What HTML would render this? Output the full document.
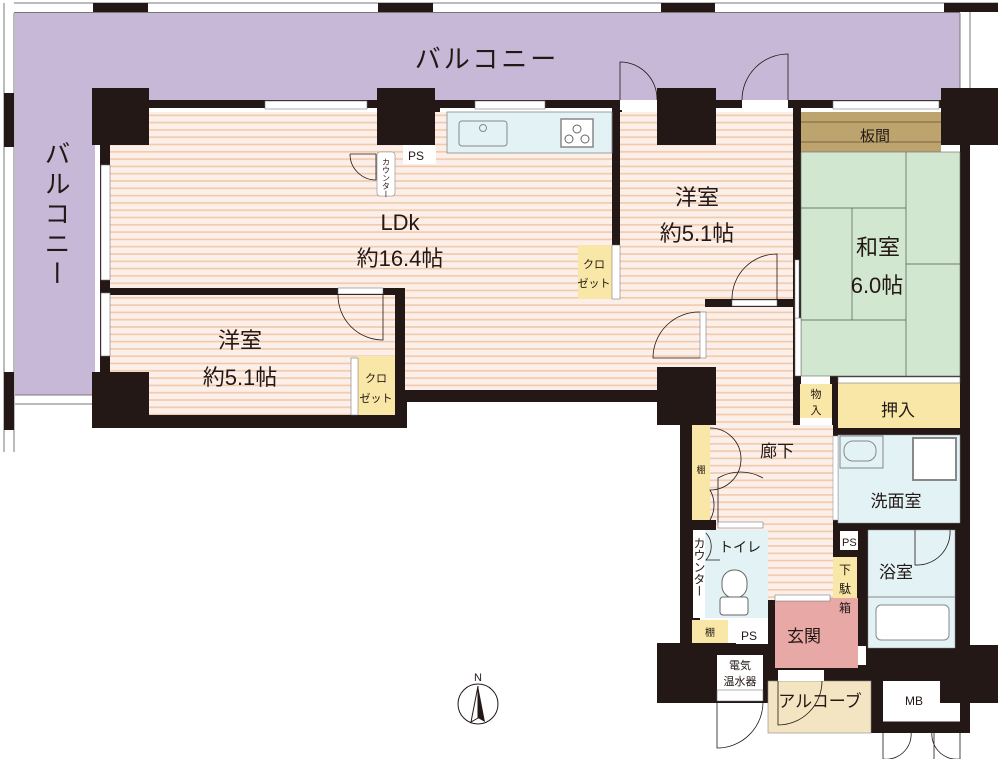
<!DOCTYPE html>
<html><head><meta charset="utf-8"><style>
html,body{margin:0;padding:0;background:#fff;width:1000px;height:759px;overflow:hidden}
svg text{font-family:"Liberation Sans","Noto Sans CJK JP",sans-serif;fill:#231815}
</style></head><body>
<svg width="1000" height="759" viewBox="0 0 1000 759" xmlns="http://www.w3.org/2000/svg">
<defs>
<pattern id="st" width="10" height="7.3" patternUnits="userSpaceOnUse">
<rect width="10" height="7.3" fill="#fcefea"/>
<rect y="5" width="10" height="1.6" fill="#f0c9aa"/>
</pattern>
</defs>
<rect x="15" y="13" width="945" height="88" fill="#c8b8d8"/>
<rect x="15" y="13" width="80" height="382" fill="#c8b8d8"/>
<line x1="14" y1="3" x2="998" y2="3" stroke="#777" stroke-width="1"/>
<line x1="14" y1="12.5" x2="960" y2="12.5" stroke="#777" stroke-width="1"/>
<line x1="4" y1="3" x2="4" y2="452" stroke="#777"/>
<line x1="14" y1="13" x2="14" y2="452" stroke="#777"/>
<line x1="15" y1="395" x2="92" y2="395" stroke="#777"/>
<line x1="15" y1="404" x2="92" y2="404" stroke="#777"/>
<line x1="960" y1="13" x2="960" y2="88" stroke="#777"/>
<line x1="970" y1="3" x2="970" y2="88" stroke="#777"/>
<rect x="93" y="3" width="55" height="9" fill="#231815"/>
<rect x="378" y="3" width="55" height="9" fill="#231815"/>
<rect x="661" y="3" width="54" height="9" fill="#231815"/>
<rect x="944" y="3" width="54" height="9" fill="#231815"/>
<rect x="4" y="93" width="10" height="54" fill="#231815"/>
<rect x="4" y="372" width="10" height="58" fill="#231815"/>

<rect x="100" y="100" width="870" height="8" fill="#231815"/>
<rect x="100" y="100" width="10" height="328" fill="#231815"/>
<rect x="92" y="415" width="313" height="13" fill="#231815"/>
<rect x="395" y="288" width="12" height="140" fill="#231815"/>
<rect x="405" y="390" width="260" height="12" fill="#231815"/>
<rect x="960" y="100" width="10" height="550" fill="#231815"/>
<rect x="680" y="400" width="20" height="300" fill="#231815"/>
<rect x="657" y="643" width="118" height="60" fill="#231815"/>
<rect x="866" y="645" width="132" height="58" fill="#231815"/>
<rect x="775" y="665" width="95" height="16" fill="#231815"/>
<rect x="866" y="680" width="104" height="53" fill="#231815"/>
<rect x="830" y="376" width="140" height="270" fill="#231815"/>
<rect x="612" y="100" width="10" height="207" fill="#231815"/>
<rect x="570" y="237" width="60" height="70" fill="#231815"/>
<rect x="570" y="299" width="228" height="8" fill="#231815"/>
<rect x="793" y="100" width="8" height="330" fill="#231815"/>
<rect x="430" y="100" width="10" height="70" fill="#231815"/>
<rect x="400" y="140" width="40" height="30" fill="#231815"/>
<rect x="376" y="140" width="27" height="57" fill="#231815"/>
<rect x="349" y="348" width="56" height="80" fill="#231815"/>
<rect x="768" y="520" width="12" height="130" fill="#231815"/>
<rect x="690" y="520" width="90" height="10" fill="#231815"/>

<rect x="110" y="112" width="502" height="176" fill="url(#st)"/>
<rect x="405" y="288" width="300" height="102" fill="url(#st)"/>
<rect x="110" y="295" width="285" height="120" fill="url(#st)"/>
<rect x="110" y="288" width="293" height="7" fill="#231815"/>
<rect x="447" y="112" width="165" height="41" fill="#e2f2f5" stroke="#888" stroke-width="0.8"/>
<rect x="459" y="121" width="48" height="25" rx="3" fill="none" stroke="#888"/>
<circle cx="483" cy="128" r="3.5" fill="none" stroke="#888"/>
<rect x="561" y="119" width="32" height="28" fill="#fff" stroke="#888" stroke-width="1.5"/>
<circle cx="577" cy="129" r="4" fill="none" stroke="#666"/><circle cx="569" cy="139" r="4" fill="none" stroke="#666"/><circle cx="585" cy="139" r="4" fill="none" stroke="#666"/>
<rect x="403" y="145" width="33" height="19" fill="#fff"/>
<text x="408" y="160" font-size="12">PS</text>
<rect x="377" y="152" width="18" height="44" rx="3" fill="#fff" stroke="#888" stroke-width="0.6"/>
<text x="386" y="158" font-size="8" writing-mode="tb">カウンター</text>
<path d="M350 154 H376 V180 A26 26 0 0 1 350 154" fill="none" stroke="#231815" stroke-width="0.8"/>

<rect x="620" y="112" width="173" height="187" fill="url(#st)"/>
<rect x="657" y="88" width="59" height="57" fill="#231815"/>
<rect x="578" y="245" width="34" height="54" fill="#f8e7a6"/>
<rect x="612" y="245" width="8" height="54" fill="#fff" stroke="#666" stroke-width="0.5"/>
<text x="594" y="268" font-size="11" text-anchor="middle">クロ</text>
<text x="594" y="287" font-size="11" text-anchor="middle">ゼット</text>
<rect x="357" y="356" width="38" height="59" fill="#f8e7a6"/>
<rect x="351" y="358" width="7" height="57" fill="#fff" stroke="#666" stroke-width="0.5"/>
<text x="376" y="382" font-size="11" text-anchor="middle">クロ</text>
<text x="376" y="402" font-size="11" text-anchor="middle">ゼット</text>

<rect x="705" y="307" width="88" height="213" fill="url(#st)"/>
<rect x="716" y="425" width="117" height="175" fill="url(#st)"/>
<rect x="780" y="530" width="53" height="70" fill="url(#st)"/>

<rect x="801" y="112" width="140" height="40" fill="#bda46f"/>
<line x1="801" y1="122" x2="941" y2="122" stroke="#7a6540"/><line x1="801" y1="142" x2="941" y2="142" stroke="#7a6540"/>
<rect x="801" y="152" width="159" height="224" fill="#d2e7cf" stroke="#666" stroke-width="0.6"/>
<path d="M906 152 V376 M801 208 H906 M852 208 V320 M801 320 H906 M906 264 H960" stroke="#555" stroke-width="0.7" fill="none"/>
<rect x="838" y="383" width="122" height="45" fill="#f8e7a6"/>
<rect x="838" y="377" width="122" height="6" fill="#fff" stroke="#666" stroke-width="0.5"/>
<rect x="800" y="384" width="32" height="34" fill="#f8e7a6"/>
<rect x="800" y="418" width="32" height="7" fill="#fff"/>

<rect x="838" y="435" width="122" height="88" fill="#e2f2f5" stroke="#888" stroke-width="0.5"/>
<rect x="840" y="436" width="43" height="32" fill="none" stroke="#888"/>
<rect x="844" y="441" width="32" height="20" rx="9" fill="none" stroke="#888"/>
<rect x="913" y="438" width="43" height="42" fill="#fff" stroke="#888" stroke-width="2"/>
<rect x="868" y="530" width="87" height="118" fill="#e2f2f5" stroke="#888" stroke-width="0.5"/>
<line x1="868" y1="597" x2="955" y2="597" stroke="#888"/>
<rect x="876" y="605" width="73" height="35" rx="5" fill="#fff" stroke="#888"/>
<path d="M915 530 V565 A33 33 0 0 0 950 530" fill="none" stroke="#231815" stroke-width="0.8"/>
<rect x="840" y="531" width="18" height="19" fill="#fff"/>
<text x="842" y="546" font-size="11">PS</text>
<rect x="833" y="557" width="24" height="71" fill="#f8e7a6"/>

<rect x="692" y="425" width="18" height="95" fill="#f8e7a6"/>
<rect x="705" y="530" width="63" height="88" fill="#e2f2f5"/>
<rect x="693" y="530" width="12" height="88" fill="#fff"/>
<rect x="722" y="570" width="25" height="28" rx="12" fill="#fff" stroke="#666"/>
<rect x="720" y="597" width="28" height="18" rx="3" fill="#fff" stroke="#666"/>
<rect x="692" y="620" width="36" height="23" fill="#f8e7a6"/>
<rect x="736" y="627" width="32" height="17" fill="#fff"/>
<text x="741" y="640" font-size="12">PS</text>

<rect x="775" y="598" width="83" height="70" fill="#e8a8a6"/>
<rect x="775" y="595" width="55" height="6" fill="#fff" stroke="#666" stroke-width="0.5"/>
<rect x="768" y="681" width="103" height="52" fill="#f3e5c2" stroke="#888" stroke-width="0.6"/>
<rect x="778" y="670" width="46" height="11" fill="#fff"/>
<path d="M778 681 V725 A44 44 0 0 0 822 681" fill="none" stroke="#231815" stroke-width="0.8"/>
<rect x="717" y="655" width="46" height="35" fill="#fff"/>
<rect x="717" y="690" width="46" height="11" fill="#fff" stroke="#666" stroke-width="0.5"/>
<path d="M717 701 V748 A46 46 0 0 0 763 701" fill="none" stroke="#231815" stroke-width="0.8"/>
<path d="M883 681 H940 V703 H960 V722 H883 Z" fill="#fff"/>
<line x1="883" y1="722" x2="960" y2="722" stroke="#231815"/>
<path d="M883 722 V759 A25 25 0 0 0 908 722 M960 722 V759 A25 25 0 0 1 935 722 M934 722 V759" fill="none" stroke="#231815" stroke-width="0.8"/>

<rect x="92" y="88" width="57" height="57" fill="#231815"/>
<rect x="377" y="88" width="58" height="57" fill="#231815"/>
<rect x="941" y="88" width="57" height="57" fill="#231815"/>
<rect x="92" y="372" width="57" height="56" fill="#231815"/>
<rect x="657" y="367" width="59" height="58" fill="#231815"/>

<rect x="265" y="101" width="102" height="8" fill="#fff" stroke="#777" stroke-width="0.6"/>
<rect x="475" y="101" width="70" height="8" fill="#fff" stroke="#777" stroke-width="0.6"/>
<rect x="833" y="101" width="106" height="8" fill="#fff" stroke="#777" stroke-width="0.6"/>
<rect x="620" y="100" width="37" height="10" fill="#fff"/>
<rect x="742" y="100" width="46" height="10" fill="#fff"/>
<path d="M620 100 V62 A37 37 0 0 1 657 100 M788 100 V54 A46 46 0 0 0 742 100" fill="none" stroke="#231815" stroke-width="0.8"/>
<rect x="101" y="165" width="9" height="115" fill="#fff" stroke="#777" stroke-width="0.6"/>
<rect x="101" y="293" width="9" height="63" fill="#fff" stroke="#777" stroke-width="0.6"/>
<rect x="338" y="288" width="45" height="6" fill="#fff" stroke="#666" stroke-width="0.5"/>
<path d="M383 294 V340 A45 45 0 0 1 338 294" fill="none" stroke="#231815" stroke-width="0.8"/>
<rect x="732" y="300" width="45" height="6" fill="#fff" stroke="#666" stroke-width="0.5"/>
<path d="M777 300 V254 A45 45 0 0 0 732 300" fill="none" stroke="#231815" stroke-width="0.8"/>
<rect x="700" y="312" width="6" height="46" fill="#fff" stroke="#666" stroke-width="0.5"/>
<path d="M700 312 A46 46 0 0 0 653 358 H700" fill="none" stroke="#231815" stroke-width="0.8"/>
<rect x="795" y="318" width="6" height="58" fill="#fff" stroke="#666" stroke-width="0.5"/>
<rect x="795" y="260" width="4" height="58" fill="#fff" stroke="#888" stroke-width="0.5"/>
<rect x="833" y="436" width="5" height="84" fill="#fff" stroke="#888" stroke-width="0.5"/>
<path d="M710 428 A30 30 0 0 1 710 490 A30 30 0 0 1 710 520 M718 523 V478 A45 45 0 0 1 763 478" fill="none" stroke="#231815" stroke-width="0.8"/>
<rect x="718" y="522" width="45" height="6" fill="#fff" stroke="#666" stroke-width="0.5"/>
<path d="M706 533 A20 20 0 0 1 706 560 H720" fill="none" stroke="#231815" stroke-width="0.8"/>

<circle cx="478" cy="704" r="20" fill="#fff" stroke="#231815"/>
<path d="M478 686 L471 722 L478 718 Z" fill="#fff" stroke="#231815"/>
<path d="M478 686 L485 722 L478 718 Z" fill="#231815"/>
<text x="474" y="681" font-size="11">N</text>

<text x="487" y="68" font-size="26" text-anchor="middle" letter-spacing="3">バルコニー</text>
<text x="56" y="140" font-size="26" writing-mode="tb" letter-spacing="4">バルコニー</text>
<text x="400" y="230" font-size="22" text-anchor="middle">LDk</text>
<text x="400" y="266" font-size="22" text-anchor="middle">約16.4帖</text>
<text x="240" y="348" font-size="22" text-anchor="middle">洋室</text>
<text x="240" y="385" font-size="22" text-anchor="middle">約5.1帖</text>
<text x="697" y="205" font-size="22" text-anchor="middle">洋室</text>
<text x="697" y="241" font-size="22" text-anchor="middle">約5.1帖</text>
<text x="878" y="255" font-size="22" text-anchor="middle">和室</text>
<text x="877" y="293" font-size="22" text-anchor="middle">6.0帖</text>
<text x="875" y="141" font-size="15" text-anchor="middle">板間</text>
<text x="898" y="416" font-size="17" text-anchor="middle">押入</text>
<text x="816" y="398" font-size="11" text-anchor="middle">物</text>
<text x="816" y="414" font-size="11" text-anchor="middle">入</text>
<text x="777" y="457" font-size="17" text-anchor="middle">廊下</text>
<text x="896" y="507" font-size="17" text-anchor="middle">洗面室</text>
<text x="896" y="578" font-size="17" text-anchor="middle">浴室</text>
<text x="804" y="642" font-size="17" text-anchor="middle">玄関</text>
<text x="740" y="552" font-size="14" text-anchor="middle">トイレ</text>
<text x="699" y="537" font-size="12" writing-mode="tb">カウンター</text>
<text x="701" y="473" font-size="9" text-anchor="middle">棚</text>
<text x="710" y="636" font-size="10" text-anchor="middle">棚</text>
<text x="845" y="574" font-size="12" text-anchor="middle">下</text>
<text x="845" y="593" font-size="12" text-anchor="middle">駄</text>
<text x="845" y="612" font-size="12" text-anchor="middle">箱</text>
<text x="740" y="669" font-size="11" text-anchor="middle">電気</text>
<text x="740" y="685" font-size="11" text-anchor="middle">温水器</text>
<text x="820" y="707" font-size="17" text-anchor="middle">アルコーブ</text>
<text x="914" y="705" font-size="12" text-anchor="middle">MB</text>
</svg>
</body></html>
